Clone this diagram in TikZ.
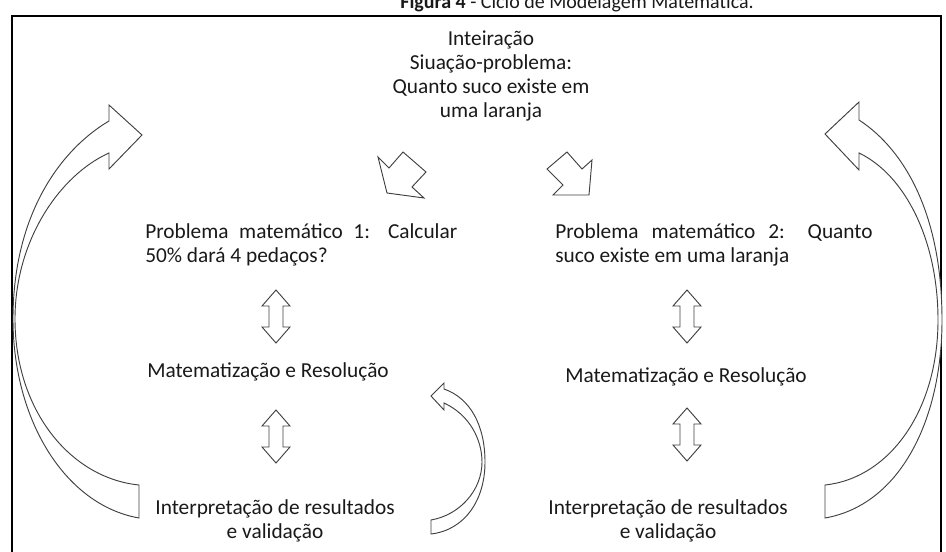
\documentclass[tikz,border=0pt]{standalone}
\usepackage{fontspec}
\setmainfont{Carlito}
\begin{document}
\begin{tikzpicture}[x=0.75pt,y=-0.75pt,
  blockarrow/.style={draw=black!75, line width=0.7pt, fill=white, line join=miter},
  txt/.style={inner sep=0pt, text=black!90, font=\fontsize{16}{18}\selectfont},
  frameline/.style={draw=black, line width=1.6pt},
  updown/.pic={\path[blockarrow] (0,0) -- (14,16) -- (7,16) -- (7,37) -- (14,37) -- (0,53) -- (-14,37) -- (-7,37) -- (-7,16) -- (-14,16) -- cycle;}
]
\clip (0,0) rectangle (946,552);
\useasboundingbox (0,0) rectangle (946,552);

% title and frame
\node[txt, anchor=base, font=\fontsize{15}{17}\selectfont] (title) at (577,9) {\textbf{Figura 4} - Ciclo de Modelagem Matemática.};
\draw[frameline] (12,600) -- (12,16) -- (941,16) -- (941,600);

% top text
\node[txt, anchor=base, align=center] (top) at (491,118)
  {Inteiração\\Siuação-problema:\\Quanto suco existe em\\uma laranja};

% notched arrows below the top text
\path[blockarrow] (403,152) -- (426,172) -- (412,187) -- (424,198) -- (387,193) -- (378,157) -- (389,168) -- cycle;
\path[blockarrow] (567,152) -- (582,169) -- (592,160) -- (589,195) -- (553,195) -- (563,185) -- (547,169) -- cycle;

% problem texts
\node[txt, anchor=base west, align=left] (p1) at (145,263)
  {\makebox[234pt][s]{Problema matemático 1: Calcular}\\50\% dará 4 pedaços?};
\node[txt, anchor=base west, align=left] (p2) at (555,263)
  {\makebox[238pt][s]{Problema matemático 2: Quanto}\\suco existe em uma laranja};

% up-down arrows
\pic (ud1) at (276,290) {updown};
\pic (ud2) at (276,410) {updown};
\pic (ud3) at (687,290) {updown};
\pic (ud4) at (687,408) {updown};

% middle texts
\node[txt, anchor=base] (m1) at (268,377) {Matematização e Resolução};
\node[txt, anchor=base] (m2) at (686,382) {Matematização e Resolução};

% bottom texts
\node[txt, anchor=base, align=center] (i1) at (275,538) {Interpretação de resultados\\e validação};
\node[txt, anchor=base, align=center] (i2) at (668,538) {Interpretação de resultados\\e validação};

% left big curved arrow
\path[blockarrow] (109,121) -- (109,105) -- (142,135) -- (109,169) -- (109,153)
  .. controls (60,175) and (15,240) .. (15,319)
  .. controls (15,410) and (70,478) .. (139,485)
  -- (139,518)
  .. controls (65,505) and (13,420) .. (13,319)
  .. controls (13,215) and (60,150) .. (109,121) -- cycle;

% right big curved arrow
\path[blockarrow] (859,120) -- (859,102) -- (825,134) -- (859,170) -- (859,153)
  .. controls (905,175) and (938,240) .. (938,320)
  .. controls (938,410) and (890,478) .. (825,485)
  -- (825,518)
  .. controls (900,505) and (942,420) .. (942,320)
  .. controls (942,215) and (905,150) .. (859,120) -- cycle;

% small curved arrow
\path[blockarrow] (444,389) -- (444,383) -- (431,396) -- (444,410) -- (444,403)
  .. controls (470,415) and (482,440) .. (482,462)
  .. controls (482,490) and (460,515) .. (431,520)
  -- (431,534)
  .. controls (465,530) and (485,500) .. (485,462)
  .. controls (485,425) and (470,398) .. (444,389) -- cycle;
\end{tikzpicture}
\end{document}
